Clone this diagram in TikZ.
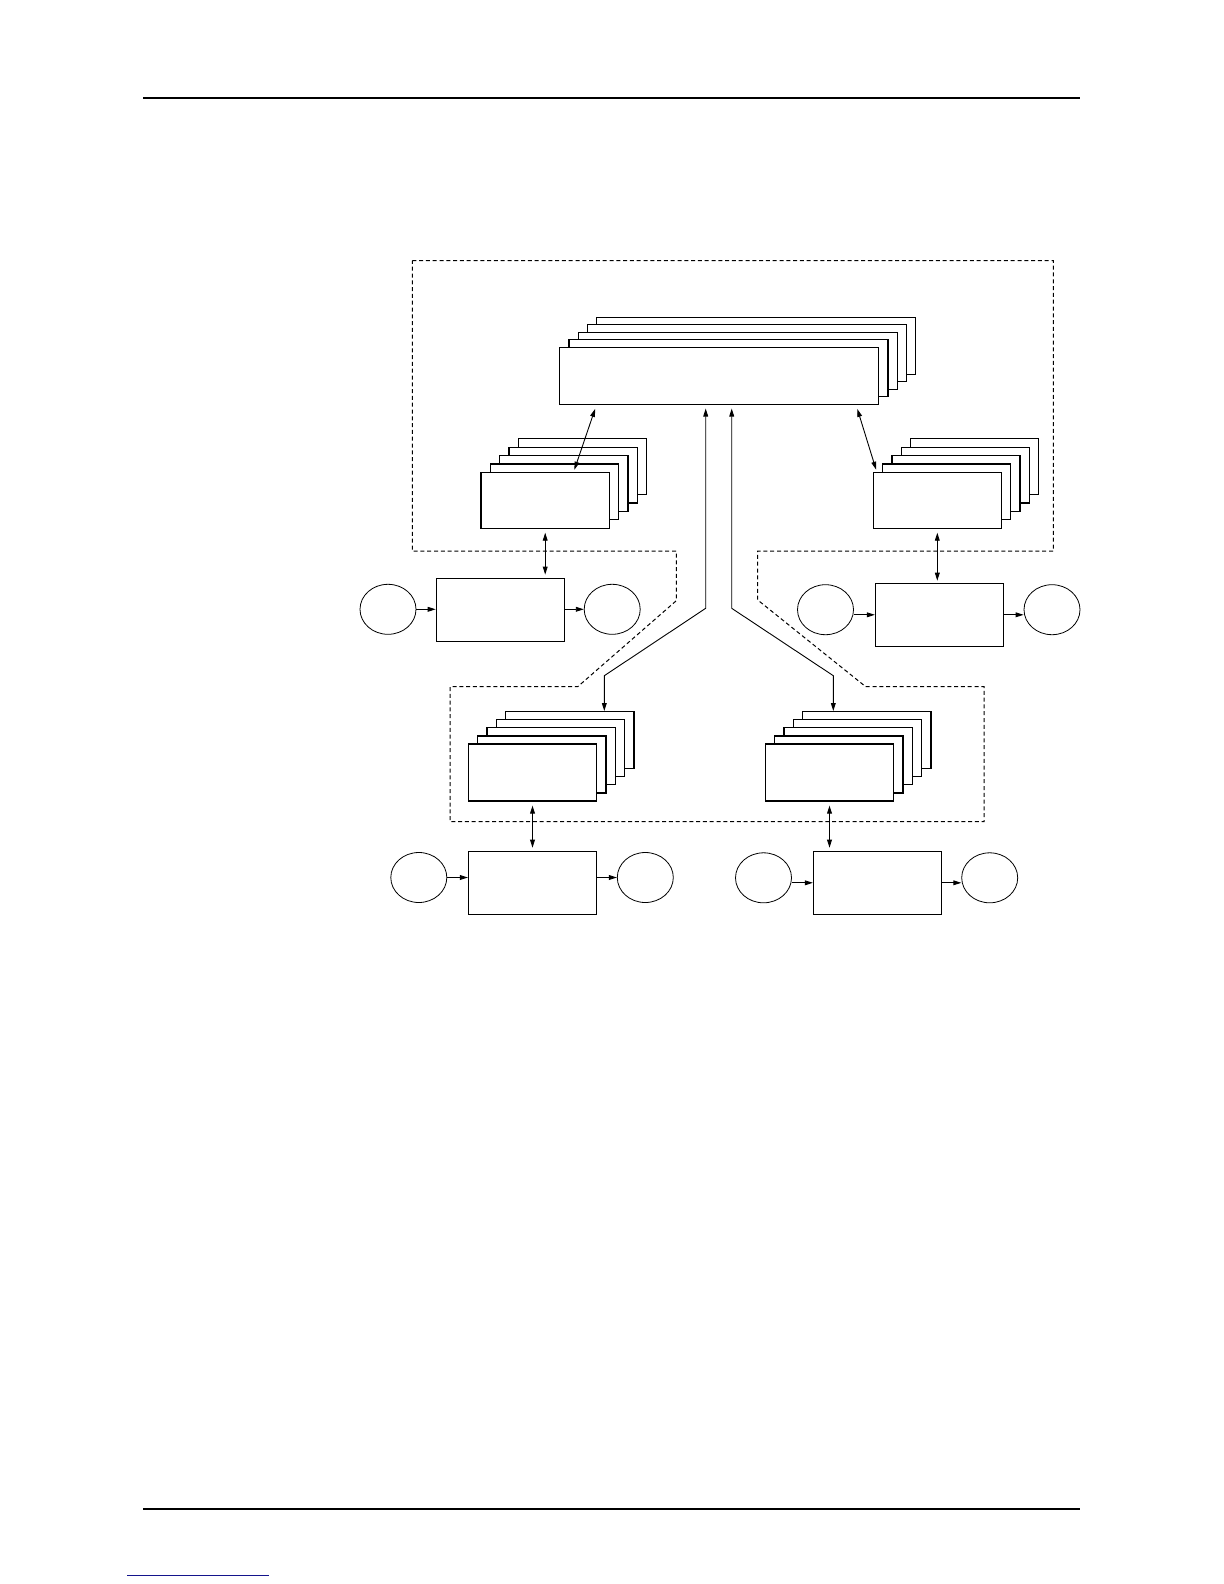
\documentclass[tikz,border=0pt]{standalone}
\usetikzlibrary{calc}
\usetikzlibrary{arrows.meta}
\usetikzlibrary{shapes.geometric}
\definecolor{linkblue}{RGB}{20,20,140}

\begin{document}
\begin{tikzpicture}[x=0.5pt,y=-0.5pt,
  layer/.style={draw,fill=white,line width=0.6pt,inner sep=0pt},
  procbox/.style={draw,line width=0.6pt,inner sep=0pt,minimum width=64pt,minimum height=31.5pt},
  port/.style={draw,ellipse,line width=0.4pt,inner sep=0pt,minimum width=28pt,minimum height=25pt},
  arr/.style={-{Triangle[length=4pt,width=2.4pt]},line width=0.45pt},
  biarrow/.style={{Triangle[length=4pt,width=2.4pt]}-{Triangle[length=4pt,width=2.4pt]},line width=0.45pt},
  zone/.style={line width=0.5pt,dash pattern=on 2pt off 1.4pt},
  rule/.style={line width=1pt}]

\useasboundingbox (0,0) rectangle (1224,1584);

% page rules
\draw[rule] (143.4,97.7) -- (1080,97.7);
\draw[rule] (143.4,1509) -- (1080,1509);
\draw[linkblue,line width=0.5pt] (127,1575) -- (269,1575);

% dashed zone
\draw[zone] (412.3,260.7) -- (1053.3,260.7) -- (1053.3,551) -- (757.7,551) -- (757.7,600)
  -- (865.7,686.7) -- (984,686.7) -- (984,821.7) -- (450,821.7) -- (450,686.7)
  -- (577.7,686.7) -- (676.3,600.7) -- (676.3,551) -- (412.3,551) -- cycle;

% stacks, back layers first
\foreach \st/\cx/\cy/\bw/\bh/\dx/\dy in {T/719.2/375.8/159.5/28.5/9.2/7.5,
    L/545.2/500.2/64.2/27.9/9.3/8.4, R/937.3/500.2/64/27.9/9.3/8.4,
    BL/532.5/772.5/64.2/28.5/9.3/8.1, BR/829.5/772.5/64.2/28.5/9.3/8.1}
  \foreach \i in {4,3,2,1,0}
    \node[layer,minimum width=\bw pt,minimum height=\bh pt] (stack\st-\i) at (\cx+\dx*\i,\cy-\dy*\i) {};

% process boxes
\node[procbox] (procL) at (500.3,609.7) {};
\node[procbox] (procR) at (939.5,614.8) {};
\node[procbox] (procBL) at (532.5,882.8) {};
\node[procbox] (procBR) at (877.5,882.8) {};

% ports
\node[port] (inL) at (388,609.3) {};
\node[port] (outL) at (612.2,609.3) {};
\node[port] (inR) at (825.5,609.7) {};
\node[port] (outR) at (1052,609.7) {};
\node[port] (inBL) at (418.8,877.5) {};
\node[port] (outBL) at (645.3,877.5) {};
\node[port] (inBR) at (763.5,877.8) {};
\node[port] (outBR) at (989.7,877.8) {};

% ports to boxes
\draw[arr] (inL.east) -- (inL.east -| procL.west);
\draw[arr] (outL.west -| procL.east) -- (outL.west);
\draw[arr] (procR.west -| inR.east) -- (procR.west);
\draw[arr] (procR.east) -- (procR.east -| outR.west);
\draw[arr] (inBL.east) -- (inBL.east -| procBL.west);
\draw[arr] (outBL.west -| procBL.east) -- (outBL.west);
\draw[arr] (procBR.west -| inBR.east) -- (procBR.west);
\draw[arr] (procBR.east) -- (procBR.east -| outBR.west);

% stacks to boxes
\draw[biarrow,shorten <=2pt,shorten >=1.5pt] (stackL-0.south) -- (stackL-0.south |- procL.north);
\draw[biarrow,shorten <=2pt,shorten >=1pt] (stackR-0.south) -- (stackR-0.south |- procR.north);
\draw[biarrow,shorten <=2pt,shorten >=1.5pt] (stackBL-0.south) -- (stackBL-0.south |- procBL.north);
\draw[biarrow,shorten <=2pt,shorten >=1.5pt] (stackBR-0.south) -- (stackBR-0.south |- procBR.north);

% top stack links
\draw[biarrow] ([xshift=18pt,yshift=-2pt]stackT-0.south west) -- ([xshift=47pt,yshift=1pt]stackL-0.north west);
\draw[biarrow] ([xshift=-11pt,yshift=-2pt]stackT-0.south east) -- ([xshift=1.7pt,yshift=1pt]stackR-0.north west);

\coordinate (bendL1) at (705.7,608.3);
\coordinate (bendL2) at (604.3,675.7);
\coordinate (bendR1) at (731.7,608.3);
\coordinate (bendR2) at (833.3,675.7);
\draw[biarrow,shorten <=1.8pt] (stackT-0.south -| bendL1) -- (bendL1) -- (bendL2) -- (stackBL-4.north -| bendL2);
\draw[biarrow,shorten <=1.8pt] (stackT-0.south -| bendR1) -- (bendR1) -- (bendR2) -- (stackBR-4.north -| bendR2);

\end{tikzpicture}
\end{document}
